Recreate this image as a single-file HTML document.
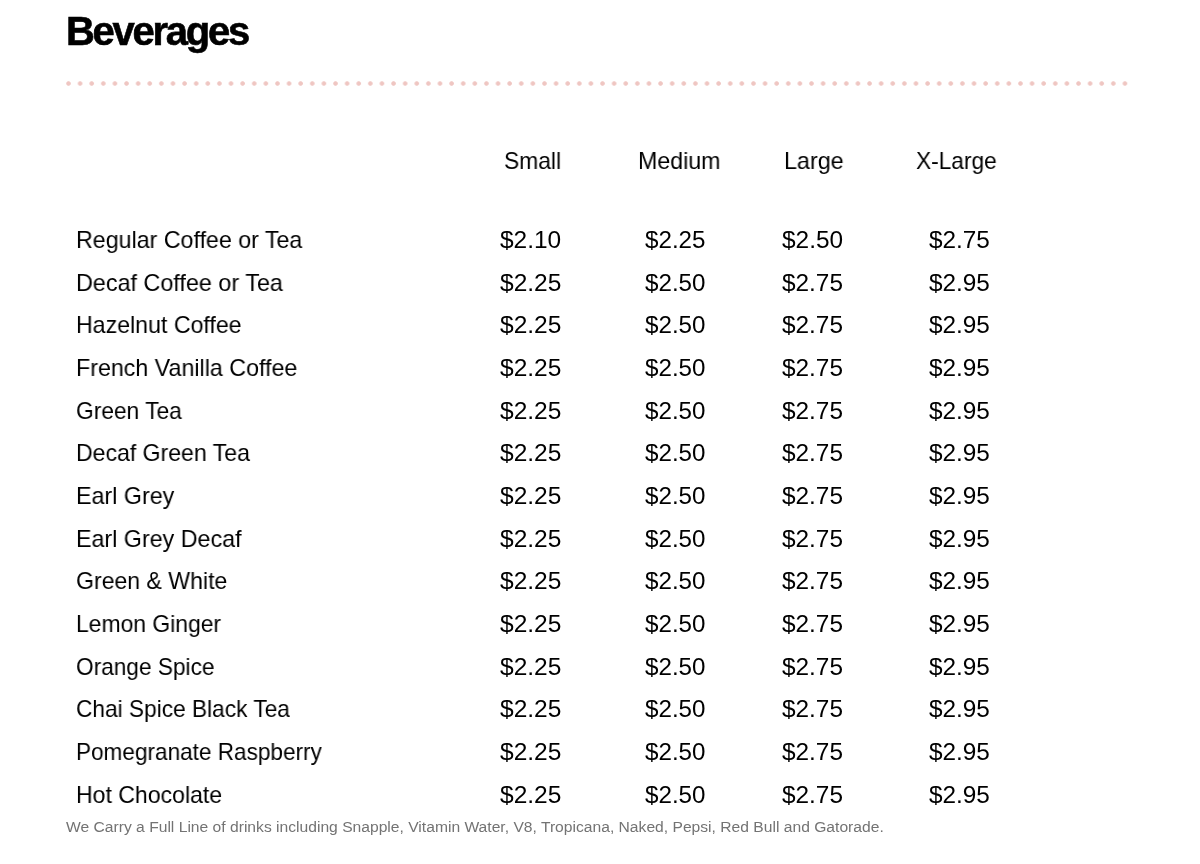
<!DOCTYPE html>
<html><head><meta charset="utf-8"><title>Beverages</title>
<style>
html,body{margin:0;padding:0;background:#fff;width:1200px;height:864px;overflow:hidden}
body{position:relative;font-family:"Liberation Sans",sans-serif;color:#000}
.t{position:absolute;white-space:nowrap;line-height:1;will-change:transform;transform-origin:0 0}
.dots{position:absolute;left:65.8px;top:81.2px;width:1062.2px;height:5px;
background-image:radial-gradient(circle at 2.5px 2.5px,#efc6c2 0,#efc6c2 1.8px,rgba(239,198,194,0) 2.7px);
background-size:11.616px 5px;background-repeat:repeat-x}

</style></head><body>
<div class="dots"></div>
<div class="t" style="left:66.12px;top:10.71px;font-size:40px;letter-spacing:-2.279px;font-weight:bold;-webkit-text-stroke:0.6px #000">Beverages</div>
<div class="t" style="left:503.86px;top:149.01px;font-size:24.0px;transform:scaleX(0.9512)">Small</div>
<div class="t" style="left:637.60px;top:149.01px;font-size:24.0px;transform:scaleX(0.9671)">Medium</div>
<div class="t" style="left:783.60px;top:149.01px;font-size:24.0px;transform:scaleX(0.9718)">Large</div>
<div class="t" style="left:915.99px;top:149.01px;font-size:24.0px;transform:scaleX(0.9454)">X-Large</div>
<div class="t" style="left:75.80px;top:228.21px;font-size:24.0px;transform:scaleX(0.9674)">Regular Coffee or Tea</div>
<div class="t" style="left:499.94px;top:228.20px;font-size:24.0px;transform:scaleX(1.0193)">$2.10</div>
<div class="t" style="left:644.55px;top:228.21px;font-size:24.0px;transform:scaleX(1.0072)">$2.25</div>
<div class="t" style="left:782.45px;top:228.21px;font-size:24.0px;transform:scaleX(1.0165)">$2.50</div>
<div class="t" style="left:929.15px;top:228.21px;font-size:24.0px;transform:scaleX(1.0132)">$2.75</div>
<div class="t" style="left:76.00px;top:270.85px;font-size:24.0px;transform:scaleX(0.9729)">Decaf Coffee or Tea</div>
<div class="t" style="left:500.34px;top:270.84px;font-size:24.0px;transform:scaleX(1.0215)">$2.25</div>
<div class="t" style="left:644.87px;top:270.85px;font-size:24.0px;transform:scaleX(1.0069)">$2.50</div>
<div class="t" style="left:782.26px;top:270.85px;font-size:24.0px;transform:scaleX(1.0146)">$2.75</div>
<div class="t" style="left:929.15px;top:270.84px;font-size:24.0px;transform:scaleX(1.0132)">$2.95</div>
<div class="t" style="left:76.00px;top:313.49px;font-size:24.0px;transform:scaleX(0.9647)">Hazelnut Coffee</div>
<div class="t" style="left:500.34px;top:313.48px;font-size:24.0px;transform:scaleX(1.0215)">$2.25</div>
<div class="t" style="left:644.87px;top:313.49px;font-size:24.0px;transform:scaleX(1.0069)">$2.50</div>
<div class="t" style="left:782.41px;top:313.49px;font-size:24.0px;transform:scaleX(1.0144)">$2.75</div>
<div class="t" style="left:928.89px;top:313.49px;font-size:24.0px;transform:scaleX(1.0140)">$2.95</div>
<div class="t" style="left:75.80px;top:356.12px;font-size:24.0px;transform:scaleX(0.9681)">French Vanilla Coffee</div>
<div class="t" style="left:500.34px;top:356.12px;font-size:24.0px;transform:scaleX(1.0215)">$2.25</div>
<div class="t" style="left:644.87px;top:356.13px;font-size:24.0px;transform:scaleX(1.0069)">$2.50</div>
<div class="t" style="left:782.41px;top:356.13px;font-size:24.0px;transform:scaleX(1.0144)">$2.75</div>
<div class="t" style="left:928.89px;top:356.13px;font-size:24.0px;transform:scaleX(1.0140)">$2.95</div>
<div class="t" style="left:76.31px;top:398.76px;font-size:24.0px;transform:scaleX(0.9480)">Green Tea</div>
<div class="t" style="left:500.34px;top:398.76px;font-size:24.0px;transform:scaleX(1.0215)">$2.25</div>
<div class="t" style="left:644.87px;top:398.77px;font-size:24.0px;transform:scaleX(1.0069)">$2.50</div>
<div class="t" style="left:782.41px;top:398.77px;font-size:24.0px;transform:scaleX(1.0144)">$2.75</div>
<div class="t" style="left:928.89px;top:398.77px;font-size:24.0px;transform:scaleX(1.0140)">$2.95</div>
<div class="t" style="left:75.80px;top:441.40px;font-size:24.0px;transform:scaleX(0.9608)">Decaf Green Tea</div>
<div class="t" style="left:500.34px;top:441.40px;font-size:24.0px;transform:scaleX(1.0215)">$2.25</div>
<div class="t" style="left:644.87px;top:441.41px;font-size:24.0px;transform:scaleX(1.0069)">$2.50</div>
<div class="t" style="left:782.41px;top:441.41px;font-size:24.0px;transform:scaleX(1.0144)">$2.75</div>
<div class="t" style="left:929.15px;top:441.40px;font-size:24.0px;transform:scaleX(1.0132)">$2.95</div>
<div class="t" style="left:75.60px;top:484.05px;font-size:24.0px;transform:scaleX(0.9706)">Earl Grey</div>
<div class="t" style="left:500.34px;top:484.04px;font-size:24.0px;transform:scaleX(1.0215)">$2.25</div>
<div class="t" style="left:644.87px;top:484.05px;font-size:24.0px;transform:scaleX(1.0069)">$2.50</div>
<div class="t" style="left:782.41px;top:484.05px;font-size:24.0px;transform:scaleX(1.0144)">$2.75</div>
<div class="t" style="left:929.15px;top:484.04px;font-size:24.0px;transform:scaleX(1.0132)">$2.95</div>
<div class="t" style="left:75.80px;top:526.69px;font-size:24.0px;transform:scaleX(0.9698)">Earl Grey Decaf</div>
<div class="t" style="left:500.34px;top:526.69px;font-size:24.0px;transform:scaleX(1.0215)">$2.25</div>
<div class="t" style="left:644.87px;top:526.68px;font-size:24.0px;transform:scaleX(1.0069)">$2.50</div>
<div class="t" style="left:782.44px;top:526.69px;font-size:24.0px;transform:scaleX(1.0148)">$2.75</div>
<div class="t" style="left:929.15px;top:526.69px;font-size:24.0px;transform:scaleX(1.0132)">$2.95</div>
<div class="t" style="left:75.95px;top:569.32px;font-size:24.0px;transform:scaleX(0.9613)">Green &amp; White</div>
<div class="t" style="left:500.34px;top:569.33px;font-size:24.0px;transform:scaleX(1.0215)">$2.25</div>
<div class="t" style="left:644.87px;top:569.32px;font-size:24.0px;transform:scaleX(1.0069)">$2.50</div>
<div class="t" style="left:782.41px;top:569.32px;font-size:24.0px;transform:scaleX(1.0144)">$2.75</div>
<div class="t" style="left:929.15px;top:569.33px;font-size:24.0px;transform:scaleX(1.0132)">$2.95</div>
<div class="t" style="left:75.58px;top:611.96px;font-size:24.0px;transform:scaleX(0.9541)">Lemon Ginger</div>
<div class="t" style="left:500.34px;top:611.97px;font-size:24.0px;transform:scaleX(1.0215)">$2.25</div>
<div class="t" style="left:644.87px;top:611.98px;font-size:24.0px;transform:scaleX(1.0069)">$2.50</div>
<div class="t" style="left:782.41px;top:611.96px;font-size:24.0px;transform:scaleX(1.0144)">$2.75</div>
<div class="t" style="left:929.15px;top:611.97px;font-size:24.0px;transform:scaleX(1.0132)">$2.95</div>
<div class="t" style="left:76.11px;top:654.60px;font-size:24.0px;transform:scaleX(0.9434)">Orange Spice</div>
<div class="t" style="left:500.34px;top:654.61px;font-size:24.0px;transform:scaleX(1.0215)">$2.25</div>
<div class="t" style="left:644.87px;top:654.62px;font-size:24.0px;transform:scaleX(1.0069)">$2.50</div>
<div class="t" style="left:782.41px;top:654.60px;font-size:24.0px;transform:scaleX(1.0144)">$2.75</div>
<div class="t" style="left:929.15px;top:654.61px;font-size:24.0px;transform:scaleX(1.0132)">$2.95</div>
<div class="t" style="left:75.98px;top:697.24px;font-size:24.0px;transform:scaleX(0.9447)">Chai Spice Black Tea</div>
<div class="t" style="left:500.34px;top:697.25px;font-size:24.0px;transform:scaleX(1.0215)">$2.25</div>
<div class="t" style="left:644.87px;top:697.26px;font-size:24.0px;transform:scaleX(1.0069)">$2.50</div>
<div class="t" style="left:782.41px;top:697.24px;font-size:24.0px;transform:scaleX(1.0144)">$2.75</div>
<div class="t" style="left:928.89px;top:697.24px;font-size:24.0px;transform:scaleX(1.0140)">$2.95</div>
<div class="t" style="left:75.65px;top:739.89px;font-size:24.0px;transform:scaleX(0.9401)">Pomegranate Raspberry</div>
<div class="t" style="left:500.34px;top:739.89px;font-size:24.0px;transform:scaleX(1.0215)">$2.25</div>
<div class="t" style="left:644.87px;top:739.90px;font-size:24.0px;transform:scaleX(1.0069)">$2.50</div>
<div class="t" style="left:782.44px;top:739.89px;font-size:24.0px;transform:scaleX(1.0148)">$2.75</div>
<div class="t" style="left:929.15px;top:739.89px;font-size:24.0px;transform:scaleX(1.0132)">$2.95</div>
<div class="t" style="left:76.00px;top:782.52px;font-size:24.0px;transform:scaleX(0.9607)">Hot Chocolate</div>
<div class="t" style="left:500.34px;top:782.53px;font-size:24.0px;transform:scaleX(1.0215)">$2.25</div>
<div class="t" style="left:644.87px;top:782.54px;font-size:24.0px;transform:scaleX(1.0069)">$2.50</div>
<div class="t" style="left:782.44px;top:782.53px;font-size:24.0px;transform:scaleX(1.0148)">$2.75</div>
<div class="t" style="left:929.15px;top:782.53px;font-size:24.0px;transform:scaleX(1.0132)">$2.95</div>
<div class="t" style="left:65.79px;top:818.75px;font-size:15.5px;transform:scaleX(1.0090);color:#737373">We Carry a Full Line of drinks including Snapple, Vitamin Water, V8, Tropicana, Naked, Pepsi, Red Bull and Gatorade.</div>
</body></html>
